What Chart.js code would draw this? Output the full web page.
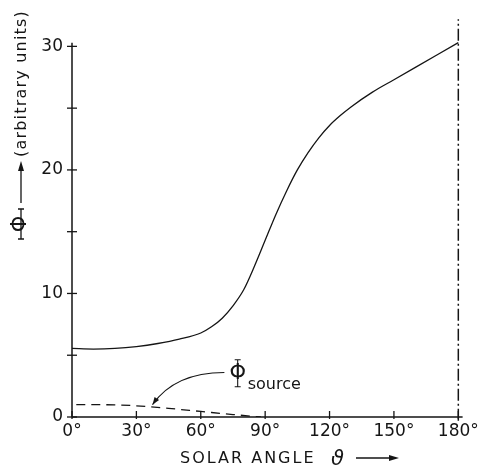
<!DOCTYPE html>
<html>
<head>
<meta charset="utf-8">
<script src="https://cdn.jsdelivr.net/npm/chart.js@4/dist/chart.umd.min.js"></script>
<style>
  html, body { margin: 0; padding: 0; background: #fff; }
  #wrap { width: 483px; height: 471px; }
</style>
</head>
<body>
<div id="wrap"><canvas id="myChart" width="483" height="471"></canvas></div>
<script>
// data
const xTicks = [0, 30, 60, 90, 120, 150, 180];
const yTicks = [0, 10, 20, 30];
const yMinorTicks = [5, 15, 25];

const angles = [0, 10, 20, 30, 40, 50, 60, 65, 70, 75, 80, 85, 90, 95, 100, 105, 110, 115, 120, 125, 130, 140, 150, 160, 170, 180];
const phi    = [5.55, 5.5, 5.55, 5.7, 5.95, 6.3, 6.8, 7.3, 8.0, 9.0, 10.3, 12.2, 14.3, 16.4, 18.3, 20.0, 21.4, 22.6, 23.6, 24.4, 25.1, 26.3, 27.3, 28.3, 29.3, 30.3];

const sourceAngles = [2, 20, 35, 45, 60, 75, 88];
const phiSource    = [1.0, 0.98, 0.85, 0.7, 0.45, 0.2, 0];

const boundaryAngle = 180;
const boundaryRange = [-0.3, 32.2];

const pairs = (xs, ys) => xs.map((x, i) => ({ x: x, y: ys[i] }));

const INK = '#151515';
const FONT = '"DejaVu Sans", sans-serif';

// axes, crossing ticks, annotation and titles
const decor = {
  id: 'decor',
  afterDraw(chart) {
    const ctx = chart.ctx;
    const xs = chart.scales.x, ys = chart.scales.y;
    const x0 = xs.getPixelForValue(0), y0 = ys.getPixelForValue(0);
    ctx.save();
    ctx.strokeStyle = INK;
    ctx.fillStyle = INK;
    ctx.lineWidth = 1.5;
    // axis lines
    ctx.beginPath();
    ctx.moveTo(x0, y0);
    ctx.lineTo(x0, ys.getPixelForValue(30.3));
    ctx.moveTo(x0, y0);
    ctx.lineTo(xs.getPixelForValue(xs.max), y0);
    ctx.stroke();
    // y ticks (cross the axis)
    ctx.lineWidth = 1.3;
    yTicks.concat(yMinorTicks).forEach(v => {
      const py = ys.getPixelForValue(v);
      ctx.beginPath();
      ctx.moveTo(x0 - 5, py);
      ctx.lineTo(x0 + 5, py);
      ctx.stroke();
    });
    // x ticks
    xTicks.forEach(v => {
      const px = xs.getPixelForValue(v);
      ctx.beginPath();
      ctx.moveTo(px, y0 - 6);
      ctx.lineTo(px, y0 + 2);
      ctx.stroke();
    });

    // annotation: Phi_source with arrow to dashed curve
    const ax = xs.getPixelForValue(71), ay = ys.getPixelForValue(3.6);
    const bx = xs.getPixelForValue(37.5), by = ys.getPixelForValue(1.0);
    const cx = xs.getPixelForValue(48), cy = ys.getPixelForValue(3.6);
    ctx.lineWidth = 1.1;
    ctx.beginPath();
    ctx.moveTo(ax, ay);
    ctx.quadraticCurveTo(cx, cy, bx, by);
    ctx.stroke();
    const ang = Math.atan2(by - cy, bx - cx);
    ctx.beginPath();
    ctx.moveTo(bx, by);
    ctx.lineTo(bx - 8 * Math.cos(ang - 0.35), by - 8 * Math.sin(ang - 0.35));
    ctx.lineTo(bx - 8 * Math.cos(ang + 0.35), by - 8 * Math.sin(ang + 0.35));
    ctx.closePath();
    ctx.fill();

    const phx = xs.getPixelForValue(77.2), phy = ys.getPixelForValue(3.5);
    ctx.font = '21px ' + FONT;
    ctx.textAlign = 'center';
    ctx.textBaseline = 'middle';
    ctx.fillText('Φ', phx, phy);
    ctx.beginPath();
    ctx.moveTo(phx, phy - 14); ctx.lineTo(phx, phy + 13);
    ctx.moveTo(phx - 3, phy - 14); ctx.lineTo(phx + 3, phy - 14);
    ctx.moveTo(phx - 3, phy + 13); ctx.lineTo(phx + 3, phy + 13);
    ctx.stroke();
    ctx.font = '16px ' + FONT;
    ctx.textAlign = 'left';
    ctx.textBaseline = 'alphabetic';
    ctx.fillText('source', phx + 10, phy + 15);

    // x title
    ctx.font = '16px ' + FONT;
    ctx.letterSpacing = '2px';
    ctx.fillText('SOLAR ANGLE', 180, 463);
    ctx.letterSpacing = '0px';
    ctx.font = 'italic 21px ' + FONT;
    ctx.fillText('ϑ', 331, 465);
    ctx.lineWidth = 1.3;
    ctx.beginPath();
    ctx.moveTo(356, 458); ctx.lineTo(392, 458);
    ctx.stroke();
    ctx.beginPath();
    ctx.moveTo(399, 458); ctx.lineTo(389, 455); ctx.lineTo(389, 461);
    ctx.closePath(); ctx.fill();

    // y title (rotated, reading upwards)
    ctx.translate(21, 0);
    ctx.rotate(-Math.PI / 2);
    ctx.font = '21px ' + FONT;
    ctx.textAlign = 'center';
    ctx.textBaseline = 'middle';
    ctx.fillText('Φ', -224, 0);
    ctx.lineWidth = 1.3;
    ctx.beginPath();
    ctx.moveTo(-239, 0); ctx.lineTo(-209, 0);
    ctx.moveTo(-239, -3); ctx.lineTo(-239, 3);
    ctx.moveTo(-209, -3); ctx.lineTo(-209, 3);
    ctx.moveTo(-203, 0); ctx.lineTo(-168, 0);
    ctx.stroke();
    ctx.beginPath();
    ctx.moveTo(-161, 0); ctx.lineTo(-171, -3); ctx.lineTo(-171, 3);
    ctx.closePath(); ctx.fill();
    ctx.font = '16px ' + FONT;
    ctx.letterSpacing = '1.2px';
    ctx.textAlign = 'left';
    ctx.fillText('(arbitrary units)', -157, 1);
    ctx.restore();
  }
};

const ctx = document.getElementById('myChart');
const myChart = new Chart(ctx, {
  type: 'line',
  data: {
    datasets: [{
      label: 'Φ',
      data: pairs(angles, phi),
      borderColor: INK,
      borderWidth: 1.3,
      pointRadius: 0,
      cubicInterpolationMode: 'monotone',
      fill: false
    }, {
      label: 'Φ source',
      data: pairs(sourceAngles, phiSource),
      borderColor: INK,
      borderWidth: 1.3,
      borderDash: [9, 6],
      pointRadius: 0,
      cubicInterpolationMode: 'monotone',
      fill: false
    }, {
      label: 'boundary',
      data: boundaryRange.map(v => ({ x: boundaryAngle, y: v })),
      borderColor: INK,
      borderWidth: 1.5,
      borderDash: [12, 3, 2, 3],
      pointRadius: 0,
      clip: false,
      fill: false
    }]
  },
  options: {
    responsive: false,
    animation: false,
    events: [],
    layout: { padding: { top: 5, right: 19, left: 0, bottom: 0 } },
    plugins: {
      legend: { display: false },
      tooltip: { enabled: false }
    },
    scales: {
      x: {
        type: 'linear',
        min: 0,
        max: 182,
        afterBuildTicks: s => { s.ticks = xTicks.map(v => ({ value: v })); },
        afterFit: s => { s.height = 54; },
        grid: { display: false, drawTicks: false },
        border: { display: false },
        ticks: {
          padding: 4,
          color: INK,
          font: { family: FONT, size: 17 },
          maxRotation: 0,
          callback: v => v + '°'
        }
      },
      y: {
        type: 'linear',
        min: 0,
        max: 32.2,
        afterBuildTicks: s => { s.ticks = yTicks.map(v => ({ value: v })); },
        afterFit: s => { s.width = 72; },
        grid: { display: false, drawTicks: false },
        border: { display: false },
        ticks: {
          padding: 9,
          color: INK,
          font: { family: FONT, size: 17 },
          callback: v => String(v)
        }
      }
    }
  },
  plugins: [decor]
});
</script>
</body>
</html>
